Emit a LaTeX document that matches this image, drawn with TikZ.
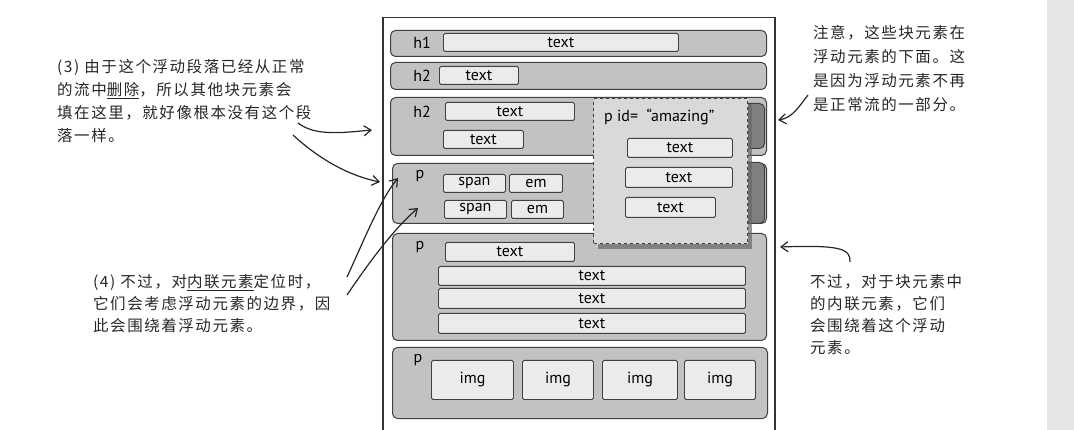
\documentclass[tikz,border=0pt]{standalone}
\usepackage{fontspec}
\setmainfont{PT Sans}
\newfontfamily\hand[LetterSpace=10]{Noto Sans CJK SC}
\usetikzlibrary{arrows.meta,shadows}

\tikzset{
  blk/.style={draw=black!75, fill=black!24, line width=1pt, rounded corners=5pt, anchor=north west, inner sep=0pt},
  tbox/.style={draw=black!75, fill=black!8, line width=0.9pt, rounded corners=1.5pt, anchor=north west, inner sep=0pt, font=\fontsize{16}{18}\selectfont, text=black},
  lbl/.style={font=\fontsize{16}{18}\selectfont, text=black, inner sep=0pt},
  tab/.style={draw=black!75, fill=black!50, line width=1pt, rounded corners=5pt, anchor=north west, inner sep=0pt},
  note/.style={font=\hand\fontsize{15.5}{23}\selectfont, text=black!85, align=left, anchor=north west, inner sep=0pt},
  arr/.style={-{Straight Barb[length=7pt,width=10pt]}, line width=1.2pt, black!85}
}

\begin{document}
\begin{tikzpicture}[x=1pt,y=-1pt]
    \useasboundingbox (0,0) rectangle (1074,430);
    \fill[black!10] (1047,0) rectangle (1074,430);

    % page
    \node[draw=black!80, line width=1.5pt, anchor=north west, minimum width=392pt, minimum height=430pt, inner sep=0pt] (page) at (382,17) {};

    % h1 and h2 rows
    \node[blk, minimum width=376pt, minimum height=26pt] (bH1) at (390,30) {};
    \node[lbl] (lH1) at (422,43) {h1};
    \node[tbox, minimum width=235pt, minimum height=18pt] (tH1) at (443,33) {text};

    \node[blk, minimum width=376pt, minimum height=27pt] (bH2a) at (390,62) {};
    \node[lbl] (lH2a) at (422,76) {h2};
    \node[tbox, minimum width=79pt, minimum height=18pt] (tH2a) at (439,66) {text};

    \node[blk, minimum width=376pt, minimum height=58pt] (bH2b) at (390,97) {};
    \node[tab, minimum width=26pt, minimum height=45pt] (tab1) at (738,103) {};
    \node[lbl] (lH2b) at (422,112) {h2};
    \node[tbox, minimum width=129pt, minimum height=18pt] (tH2b1) at (445,102) {text};
    \node[tbox, minimum width=80pt, minimum height=18pt] (tH2b2) at (443,130) {text};

    % p with span and em
    \node[blk, minimum width=374pt, minimum height=60pt] (bP1) at (392,163) {};
    \node[tab, minimum width=26pt, minimum height=61pt] (tab2) at (738,162) {};
    \node[lbl] (lP1) at (420,176) {p};
    \node[tbox, minimum width=62pt, minimum height=18pt] (sp1) at (443,174) {span};
    \node[tbox, minimum width=53pt, minimum height=18pt] (em1) at (509,174) {em};
    \node[tbox, minimum width=62pt, minimum height=18pt] (sp2) at (444,200) {span};
    \node[tbox, minimum width=52pt, minimum height=18pt] (em2) at (511,200) {em};

    % p with text lines
    \node[blk, minimum width=374pt, minimum height=107pt] (bP2) at (392,233) {};
    \node[lbl] (lP2) at (420,247) {p};
    \node[tbox, minimum width=129pt, minimum height=19pt] (tP2a) at (445,242) {text};
    \node[tbox, minimum width=307pt, minimum height=19pt] (tP2b) at (438,266) {text};
    \node[tbox, minimum width=307pt, minimum height=20pt] (tP2c) at (438,288) {text};
    \node[tbox, minimum width=307pt, minimum height=20pt] (tP2d) at (438,313) {text};

    % p with images
    \node[blk, minimum width=375pt, minimum height=71pt] (bP3) at (392,347) {};
    \node[lbl] (lP3) at (418,360) {p};
    \node[tbox, minimum width=82pt, minimum height=39pt] (img1) at (431,360) {img};
    \node[tbox, minimum width=71pt, minimum height=39pt] (img2) at (522,360) {img};
    \node[tbox, minimum width=75pt, minimum height=39pt] (img3) at (602,360) {img};
    \node[tbox, minimum width=71pt, minimum height=39pt] (img4) at (684,360) {img};

    % floated paragraph
    \node[draw=black!75, dashed, line width=1.1pt, fill=black!15, anchor=north west, inner sep=0pt,
          minimum width=154pt, minimum height=145pt,
          drop shadow={shadow xshift=4pt, shadow yshift=-5pt, fill=black!60, opacity=0.7}] (fl) at (593,98) {};
    \node[lbl, anchor=west] (lFl) at (604,117) {p id=\ \ “amazing”};
    \node[tbox, minimum width=105pt, minimum height=19pt] (f1) at (627,138) {text};
    \node[tbox, minimum width=107pt, minimum height=20pt] (f2) at (625,167) {text};
    \node[tbox, minimum width=90pt, minimum height=20pt] (f3) at (625,197) {text};

    % notes
    \node[note] (n3) at (57,59) {(3) 由于这个浮动段落已经从正常\\的流中\underline{删除}，所以其他块元素会\\填在这里，就好像根本没有这个段\\落一样。};
    \node[note, font=\hand\fontsize{15.5}{22}\selectfont] (n4) at (93,274) {(4) 不过，对\underline{内联元素}定位时，\\它们会考虑浮动元素的边界，因\\此会围绕着浮动元素。};
    \node[note, font=\hand\fontsize{15.5}{24}\selectfont] (nR1) at (813,25) {注意，这些块元素在\\浮动元素的下面。这\\是因为浮动元素不再\\是正常流的一部分。};
    \node[note, font=\hand\fontsize{15.5}{22}\selectfont] (nR2) at (810,274) {不过，对于块元素中\\的内联元素，它们\\会围绕着这个浮动\\元素。};

    \coordinate (n3a) at (298,123);
    \coordinate (n3b) at (293,135);
    \coordinate (h2in) at (372,130);
    \coordinate (pin) at (380,182);
    \coordinate (n4a) at (347,277);
    \coordinate (n4b) at (347,295);
    \coordinate (sp1in) at (398,178);
    \coordinate (sp2in) at (418,208);
    \coordinate (nR1a) at (808,95);
    \coordinate (pageR1) at (778,120);
    \coordinate (nR2a) at (850,262);
    \coordinate (pageR2) at (780,247);

    \draw[arr] (n3a) .. controls (315,136) and (340,133) .. (h2in);
    \draw[arr] (n3b) .. controls (320,160) and (350,176) .. (pin);
    \draw[arr] (n4a) .. controls (365,238) and (380,200) .. (sp1in);
    \draw[arr] (n4b) .. controls (372,258) and (395,228) .. (sp2in);
    \draw[arr] (nR1a) .. controls (798,108) and (792,118) .. (pageR1);
    \draw[arr] (nR2a) .. controls (851,248) and (838,245) .. (pageR2);
\end{tikzpicture}
\end{document}
